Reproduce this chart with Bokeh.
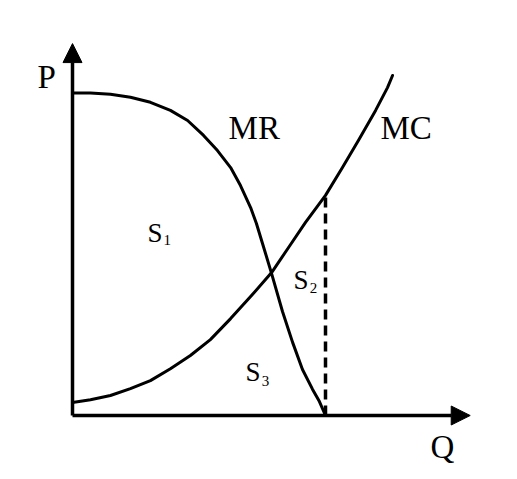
from bokeh.plotting import figure
from bokeh.models import Range1d, Arrow, NormalHead
from bokeh.core.properties import value
from bokeh.embed import file_html
from bokeh.resources import INLINE

# ---- data (economic units) ----
mr_q = [0.0, 0.71, 1.50, 2.29, 3.08, 3.87, 4.55, 5.18, 5.73, 6.25, 6.64, 7.04, 7.27, 7.51,
        7.87, 8.30, 8.70, 9.09, 9.49, 9.76, 10.0]
mr_p = [12.75, 12.75, 12.70, 12.58, 12.38, 12.06, 11.66, 11.07, 10.47, 9.80, 9.09, 8.22, 7.59, 6.80,
        5.61, 4.11, 2.89, 1.82, 1.03, 0.55, 0.0]

mc_q = [0.0, 0.71, 1.50, 2.29, 3.08, 3.87, 4.66, 5.45, 6.25, 7.04, 7.87, 8.62, 9.21, 10.0,
        10.67, 11.30, 11.98, 12.45, 12.65]
mc_p = [0.51, 0.62, 0.79, 1.06, 1.38, 1.85, 2.37, 3.00, 3.83, 4.70, 5.65, 6.76, 7.63, 8.70,
        9.80, 10.87, 12.06, 12.96, 13.44]

q_star = 10.0
p_star_mc = 8.70
q_axis_max = 15.72
p_axis_max = 14.70

# ---- figure ----
scale = 25.3
W, H = 509, 471
p = figure(width=W, height=H, output_backend="svg", toolbar_location=None,
           x_range=Range1d((0 - 72) / scale, (W - 72) / scale),
           y_range=Range1d((415 - H) / scale, (415 - 0) / scale),
           min_border=0)
p.axis.visible = False
p.grid.visible = False
p.outline_line_color = None

ink = "#000000"

# axes with arrows
p.add_layout(Arrow(end=NormalHead(size=19, fill_color=ink, line_color=ink),
                   x_start=0, y_start=0, x_end=0, y_end=p_axis_max,
                   line_width=3.5, line_color=ink))
p.add_layout(Arrow(end=NormalHead(size=19, fill_color=ink, line_color=ink),
                   x_start=0, y_start=0, x_end=q_axis_max, y_end=0,
                   line_width=3.5, line_color=ink))

# curves
p.line(mr_q, mr_p, line_width=3, line_color=ink, line_join="round", line_cap="round")
p.line(mc_q, mc_p, line_width=3, line_color=ink, line_join="round", line_cap="round")

# dashed vertical at Q*
p.line([q_star, q_star], [0, p_star_mc], line_width=3.5, line_color=ink, line_dash="10 6")

serif = value("Liberation Serif")

def label(x, y, t, size):
    p.text(x=[x], y=[y], text=[t], text_font=serif, text_font_size=size,
           text_color=ink, text_align="left", text_baseline="alphabetic")

label(6.17, 11.35, "MR", "33px")
label(12.17, 11.35, "MC", "33px")
label(-1.38, 13.36, "P", "33px")
label(14.15, -1.26, "Q", "33px")

label(2.96, 7.20, "S", "27px")
label(3.60, 6.92, "1", "15px")
label(8.74, 5.34, "S", "27px")
label(9.38, 5.02, "2", "15px")
label(6.84, 1.70, "S", "27px")
label(7.48, 1.35, "3", "15px")

open("out.html", "w").write(file_html(p, INLINE))
